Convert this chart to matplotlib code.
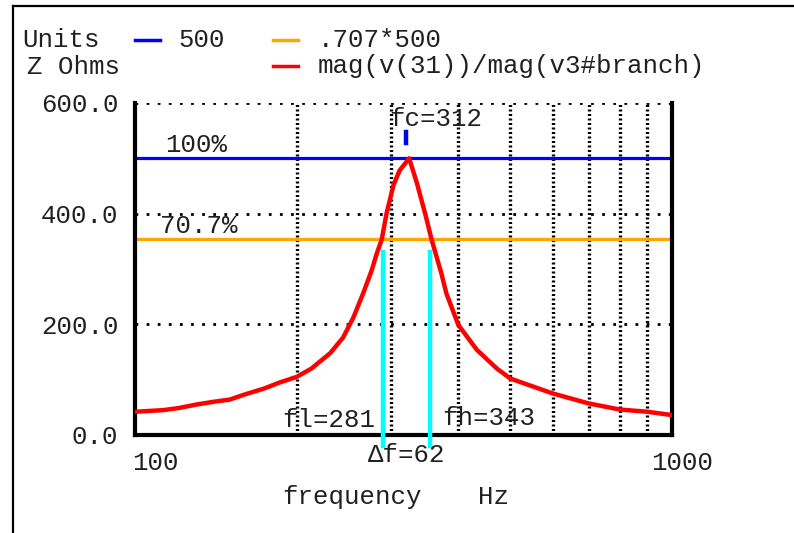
"""
plot.py
Impedance magnitude of a parallel tank circuit vs frequency, with the
100% and 70.7% levels and the half-power bandwidth markers.
"""

import matplotlib.pyplot as plt
from matplotlib.lines import Line2D

# curve
freq = [100, 113, 121, 130, 140, 150, 161, 174, 186, 200, 213, 231, 244, 255, 266, 276, 282, 288,
        294, 303, 311, 324, 335, 347, 357, 372, 380, 400, 433, 472, 500, 600, 700, 800, 900, 1000]
z_ohms = [42, 45, 49, 55, 60, 64, 74, 84, 95, 105, 120, 148, 176, 212, 256, 298, 328, 353,
          400, 452, 478, 500, 455, 400, 352, 292, 256, 199, 154, 120, 102, 75, 57, 46, 42, 36]

ref_level = 500
half_power = 0.707 * ref_level

# marker positions as drawn
fl_marker = 290
fh_marker = 355
fc_marker = 320
marker_top = 331
marker_bottom = -20

y_ticks = [0, 200, 400, 600]
y_labels = ["0.0", "200.0", "400.0", "600.0"]
x_grid = [200, 300, 400, 500, 600, 700, 800, 900]

FONT = "Liberation Mono"
FS = 18.5
TXT = "#202020"

W, H = 794, 533
fig = plt.figure(figsize=(W / 100, H / 100), dpi=100)
fig.patch.set_facecolor("white")


def fx(px):
    return px / W


def fy(py):
    return 1 - py / H


ax = fig.add_axes([fx(135), fy(435), (672 - 135) / W, (435 - 103) / H])
ax.set_xscale("log")
ax.set_xlim(100, 1000)
ax.set_ylim(0, 600)

# grid
for g in x_grid:
    ax.axvline(g, color="black", linewidth=2.4, dashes=(0.6, 0.75), zorder=1)
for g in y_ticks[1:]:
    ax.axhline(g, color="black", linewidth=2.0, dashes=(1, 3), zorder=1)

# reference levels
ax.axhline(ref_level, color="#0000ff", linewidth=2.3, zorder=2)
ax.axhline(half_power, color="#ffa500", linewidth=2.3, zorder=2)

# bandwidth markers
ax.plot([fl_marker, fl_marker], [marker_bottom, marker_top], color="#00ffff", linewidth=3.2,
        clip_on=False, zorder=3)
ax.plot([fh_marker, fh_marker], [marker_bottom, marker_top], color="#00ffff", linewidth=3.2,
        clip_on=False, zorder=3)
ax.plot([fc_marker, fc_marker], [528, 547], color="#0000ff", linewidth=3.2, zorder=3)

# response curve
ax.plot(freq, z_ohms, color="#ff0000", linewidth=3.2, zorder=4)

# axes frame
for side in ["left", "bottom", "right"]:
    ax.spines[side].set_linewidth(3)
    ax.spines[side].set_color("black")
ax.spines["top"].set_visible(False)

ax.set_xticks([])
ax.minorticks_off()
ax.set_xticks([], minor=True)
ax.set_yticks(y_ticks)
ax.set_yticklabels(y_labels, fontfamily=FONT, fontsize=FS, color=TXT)
ax.tick_params(axis="y", length=0, pad=12)

# x tick labels
ax.annotate("100", xy=(100, 0), xycoords=("data", "axes fraction"), xytext=(-2, -20),
            textcoords="offset points", ha="left", va="center", fontfamily=FONT, fontsize=FS, color=TXT)
ax.annotate("1000", xy=(1000, 0), xycoords=("data", "axes fraction"), xytext=(7, -20),
            textcoords="offset points", ha="center", va="center", fontfamily=FONT, fontsize=FS, color=TXT)

# in-plot labels
ax.text(113.7, 524, "100%", ha="left", va="center", fontfamily=FONT, fontsize=FS, color=TXT)
ax.text(111.3, 378, "70.7%", ha="left", va="center", fontfamily=FONT, fontsize=FS, color=TXT)
ax.text(297, 571, "fc=312", ha="left", va="center", fontfamily=FONT, fontsize=FS, color=TXT)
ax.text(280, 27, "fl=281", ha="right", va="center", fontfamily=FONT, fontsize=FS, color=TXT)
ax.text(374, 31, "fh=343", ha="left", va="center", fontfamily=FONT, fontsize=FS, color=TXT)
ax.text(271, -36, "\u0394f=62", ha="left", va="center", fontfamily=FONT, fontsize=FS, color=TXT,
        clip_on=False)

# axis title
fig.text(fx(282), fy(497), "frequency", ha="left", va="center", fontfamily=FONT, fontsize=FS, color=TXT)
fig.text(fx(478), fy(497), "Hz", ha="left", va="center", fontfamily=FONT, fontsize=FS, color=TXT)

# legend block
fig.text(fx(22), fy(40), "Units", ha="left", va="center", fontfamily=FONT, fontsize=FS, color=TXT)
fig.text(fx(27), fy(67), "Z Ohms", ha="left", va="center", fontfamily=FONT, fontsize=FS, color=TXT)
fig.add_artist(Line2D([fx(135), fx(160)], [fy(40), fy(40)], color="#0000ff", linewidth=2.5))
fig.text(fx(178), fy(40), "500", ha="left", va="center", fontfamily=FONT, fontsize=FS, color=TXT)
fig.add_artist(Line2D([fx(273), fx(298)], [fy(40), fy(40)], color="#ffa500", linewidth=2.5))
fig.text(fx(318), fy(40), ".707*500", ha="left", va="center", fontfamily=FONT, fontsize=FS, color=TXT)
fig.add_artist(Line2D([fx(273), fx(298)], [fy(66), fy(66)], color="#ff0000", linewidth=2.5))
fig.text(fx(318), fy(66), "mag(v(31))/mag(v3#branch)", ha="left", va="center", fontfamily=FONT,
         fontsize=FS, color=TXT)

# outer frame (left and top edges only are visible)
fig.add_artist(Line2D([fx(13), fx(13)], [0, fy(6)], color="black", linewidth=1.6))
fig.add_artist(Line2D([fx(13), 1], [fy(6), fy(6)], color="black", linewidth=1.6))

fig.savefig("out.png", dpi=100, facecolor="white")
plt.close()
